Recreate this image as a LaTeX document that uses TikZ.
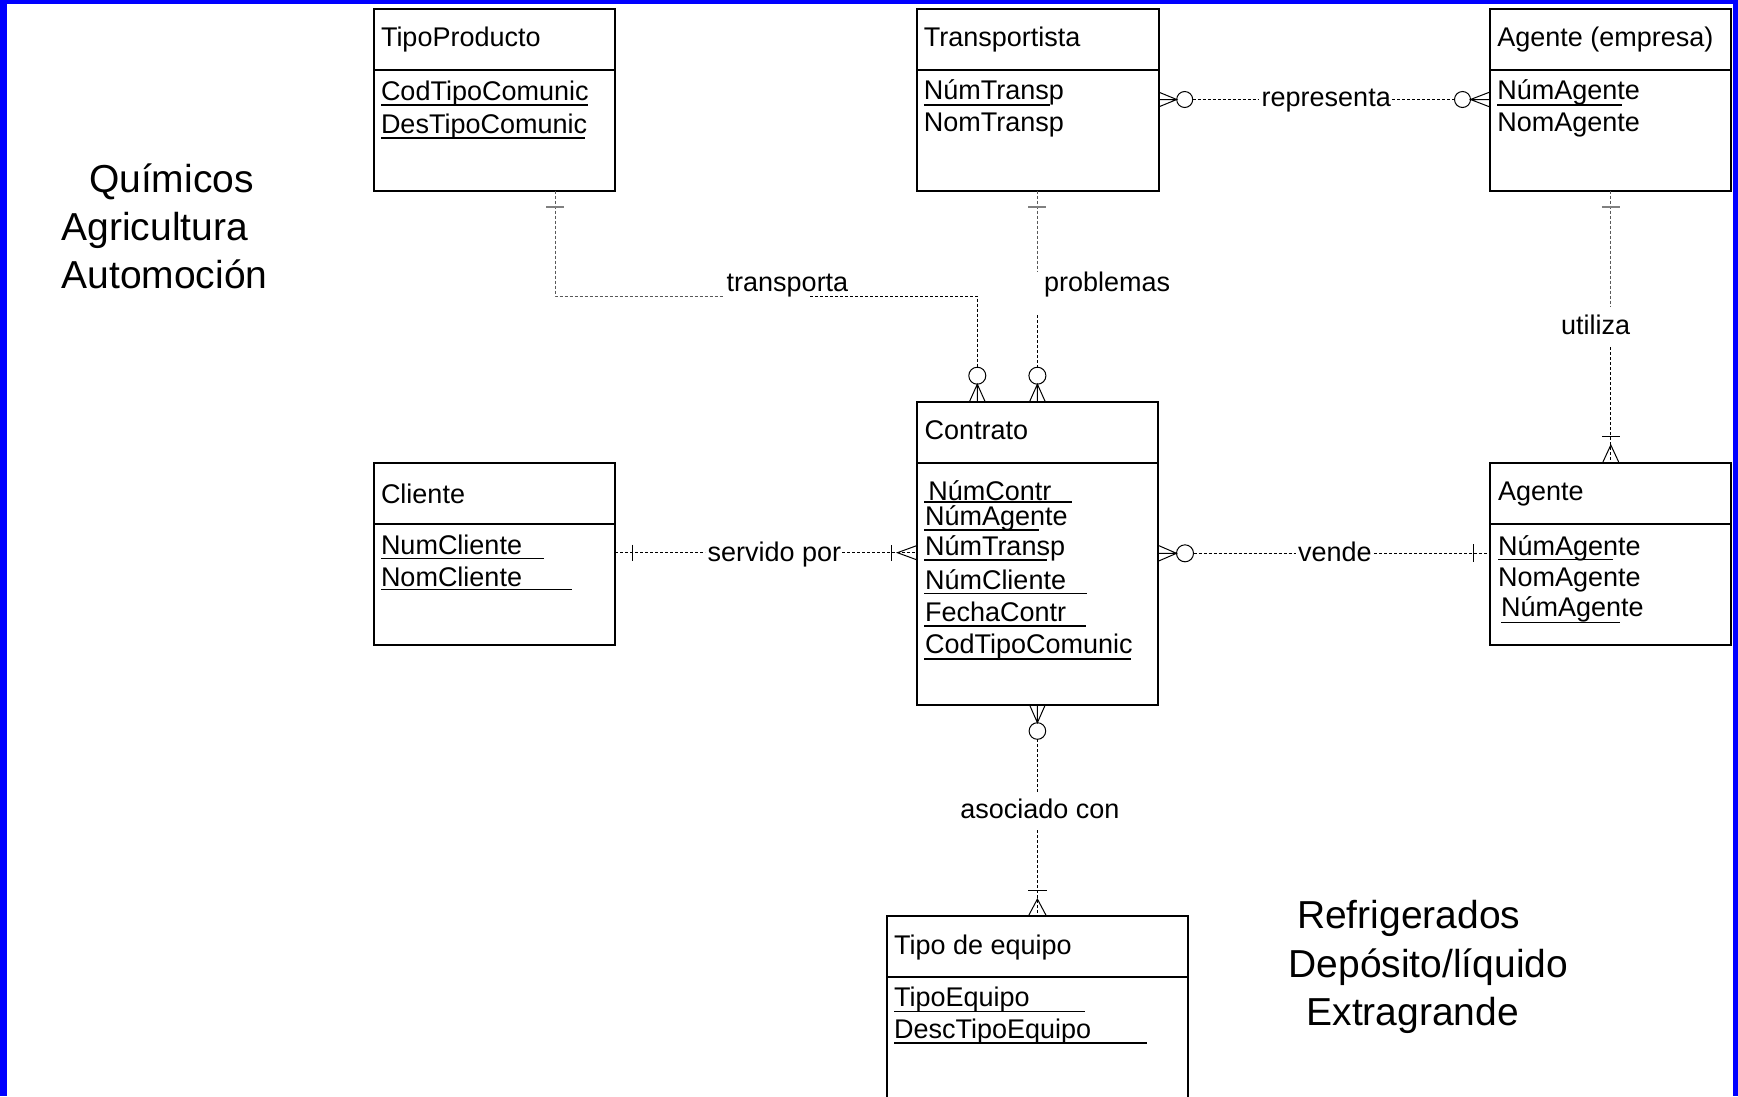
\documentclass[tikz,border=0pt]{standalone}
\usepackage{fontspec}
\setmainfont{Liberation Sans}
\usetikzlibrary{calc}
\newcommand\bxf{\fontsize{27}{31}\selectfont}
\newcommand\bigf{\fontsize{39}{47}\selectfont}
\begin{document}
\begin{tikzpicture}[x=1pt,y=-1pt,
 entity/.style={draw, line width=2pt, inner sep=0pt, outer sep=0pt, anchor=north west},
 txt/.style={inner sep=0pt, outer sep=0pt, anchor=base west, font=\bxf},
 bigtxt/.style={inner sep=0pt, outer sep=0pt, anchor=base west, font=\bigf},
 conn/.style={line width=1pt, dash pattern=on 3pt off 2pt},
 uconn/.style={conn, draw=black!65},
 foot/.style={line width=1pt},
 ul/.style={line width=1.8pt},
 tickmk/.style={line width=1pt},
 utick/.style={line width=1.2pt, draw=black!50},
 divl/.style={line width=2pt}]
\useasboundingbox (0,0) rectangle (1738,1096);
% background and blue frame
\fill[blue] (0,0) rectangle (1738,1096);
\fill[white] (7,4) rectangle (1733,1100);

% ---------- entities ----------
\node[entity, minimum width=241.5pt, minimum height=181.5pt] (tipo) at (373.5,9) {};
\node[entity, minimum width=242pt, minimum height=181.5pt] (transp) at (916.5,9) {};
\node[entity, minimum width=241pt, minimum height=181.5pt] (agemp) at (1490,9) {};
\node[entity, minimum width=241.5pt, minimum height=302.5pt] (contrato) at (916.5,402) {};
\node[entity, minimum width=241.5pt, minimum height=181.5pt] (cliente) at (373.5,463) {};
\node[entity, minimum width=241pt, minimum height=181.5pt] (agente) at (1490,463) {};
\node[entity, minimum width=301.5pt, minimum height=230pt] (equipo) at (886.5,916) {};

\draw[divl] ($(tipo.north west)+(0,61)$) -- ($(tipo.north east)+(0,61)$);
\draw[divl] ($(transp.north west)+(0,61)$) -- ($(transp.north east)+(0,61)$);
\draw[divl] ($(agemp.north west)+(0,61)$) -- ($(agemp.north east)+(0,61)$);
\draw[divl] ($(contrato.north west)+(0,60.5)$) -- ($(contrato.north east)+(0,60.5)$);
\draw[divl] ($(cliente.north west)+(0,60.5)$) -- ($(cliente.north east)+(0,60.5)$);
\draw[divl] ($(agente.north west)+(0,61)$) -- ($(agente.north east)+(0,61)$);
\draw[divl] ($(equipo.north west)+(0,60.5)$) -- ($(equipo.north east)+(0,60.5)$);

% ---------- entity texts ----------
\node[txt] (tipoT) at (381,46.7) {TipoProducto};
\node[txt] (tipoA1) at (381,100) {CodTipoComunic};
\node[txt] (tipoA2) at (381,133) {DesTipoComunic};
\draw[ul] (381,105) -- (587.5,105);
\draw[ul] (381,137.7) -- (584.8,137.7);

\node[txt] (transpT) at (923.8,46.7) {Transportista};
\node[txt] (transpA1) at (923.8,99) {NúmTransp};
\node[txt] (transpA2) at (923.8,131.7) {NomTransp};
\draw[ul] (923.8,105) -- (1049.7,105);

\node[txt] (agempT) at (1497.4,46.7) {Agente (empresa)};
\node[txt] (agempA1) at (1497.4,99) {NúmAgente};
\node[txt] (agempA2) at (1497.4,131.7) {NomAgente};
\draw[ul] (1497.4,105) -- (1621.6,105);

\node[txt] (contratoT) at (924.5,439.3) {Contrato};
\node[txt] (contratoA1) at (928.3,500) {NúmContr};
\node[txt] (contratoA2) at (925,525.5) {NúmAgente};
\node[txt] (contratoA3) at (925,555.5) {NúmTransp};
\node[txt] (contratoA4) at (925,589.5) {NúmCliente};
\node[txt] (contratoA5) at (925,621.5) {FechaContr};
\node[txt] (contratoA6) at (925,653.5) {CodTipoComunic};
\draw[ul] (924,502) -- (1071.7,502);
\draw[ul] (924,530) -- (1039.3,530);
\draw[ul] (924,560) -- (1046.7,560);
\draw[ul] (924,593.5) -- (1086.7,593.5);
\draw[ul] (924,626) -- (1085.7,626);
\draw[ul] (924,659) -- (1131,659);

\node[txt] (clienteT) at (381,503) {Cliente};
\node[txt] (clienteA1) at (381,554) {NumCliente};
\node[txt] (clienteA2) at (381,586.5) {NomCliente};
\draw[ul] (381,558.5) -- (543.5,558.5);
\draw[ul] (381,589.5) -- (572.2,589.5);

\node[txt] (agenteT) at (1498,500) {Agente};
\node[txt] (agenteA1) at (1498,555) {NúmAgente};
\node[txt] (agenteA2) at (1498,586) {NomAgente};
\node[txt] (agenteA3) at (1501,616.7) {NúmAgente};
\draw[ul] (1498,559.5) -- (1612.8,559.5);
\draw[ul] (1501,622.5) -- (1620,622.5);

\node[txt] (equipoT) at (894,954) {Tipo de equipo};
\node[txt] (equipoA1) at (894,1006) {TipoEquipo};
\node[txt] (equipoA2) at (894,1038.3) {DescTipoEquipo};
\draw[ul] (894,1011.5) -- (1085,1011.5);
\draw[ul] (894,1043.3) -- (1147.3,1043.3);

% ---------- free labels ----------
\node[bigtxt] (l1) at (89,192.7) {Químicos};
\node[bigtxt] (l2) at (61.5,240) {Agricultura};
\node[bigtxt] (l3) at (61.5,288) {Automoción};
\node[bigtxt] (r1) at (1297,928.3) {Refrigerados};
\node[bigtxt] (r2) at (1288.5,977) {Depósito/líquido};
\node[bigtxt] (r3) at (1306.5,1025) {Extragrande};

% ---------- relationship labels ----------
\node[txt] (lblTransporta) at (726.7,291.7) {transporta};
\node[txt] (lblProblemas) at (1044,291.7) {problemas};
\node[txt] (lblRepresenta) at (1261.7,106.7) {representa};
\node[txt] (lblUtiliza) at (1561,334) {utiliza};
\node[txt] (lblServido) at (707.7,561.5) {servido por};
\node[txt] (lblVende) at (1298,561.5) {vende};
\node[txt] (lblAsociado) at (960.4,818.3) {asociado con};

% ---------- connector points ----------
\coordinate (tpBend) at (555,296);
\coordinate (tpCorner) at (977.3,296);
\coordinate (tpCirc) at (977.3,375.7);
\coordinate (prCirc) at (1037.4,375.7);
\coordinate (reLeft) at (1184.7,99.5);
\coordinate (reRight) at (1462.5,99.5);
\coordinate (utX) at (1610.8,300);
\coordinate (spY) at (600,552.7);
\coordinate (veCirc) at (1185,553.3);
\coordinate (asCirc) at (1037.4,731);

% transporta: TipoProducto -> Contrato
\draw[uconn] (tipo.south -| tpBend) -- (tpBend) -- (724,296);
\draw[conn] (810,296) -- (tpCorner) -- ($(tpCirc)+(0,-8.5)$);
\draw[utick] (546,207) -- (564,207);
\draw[foot] (tpCirc) circle[radius=8.5];
\draw[foot] (969.3,402) -- (977.3,384.2) -- (985.3,402) (977.3,384.2) -- (contrato.north -| tpCirc);

% problemas: Transportista -> Contrato
\draw[uconn] (transp.south -| prCirc) -- (1037.4,272);
\draw[conn] (1037.4,315) -- ($(prCirc)+(0,-8.5)$);
\draw[utick] (1028.4,207) -- (1046.4,207);
\draw[foot] (prCirc) circle[radius=8.5];
\draw[foot] (1029.4,402) -- (1037.4,384.2) -- (1045.4,402) (1037.4,384.2) -- (contrato.north -| prCirc);

% representa: Transportista -> Agente (empresa)
\draw[foot] (reLeft) circle[radius=8];
\draw[foot] (reRight) circle[radius=8];
\draw[conn] ($(reLeft)+(8,0)$) -- (1258,99.5);
\draw[conn] (1392,99.5) -- ($(reRight)+(-8,0)$);
\draw[foot] (1158.5,92) -- (1176.7,99.5) -- (1158.5,107) (1176.7,99.5) -- (transp.east |- reLeft);
\draw[foot] (1490,92) -- (1470.5,99.5) -- (1490,107) (1470.5,99.5) -- (agemp.west |- reRight);

% utiliza: Agente (empresa) -> Agente
\draw[uconn] (agemp.south -| utX) -- (1610.8,307);
\draw[conn] (1610.8,347) -- (agente.north -| utX);
\draw[utick] (1601.8,207) -- (1619.8,207);
\draw[tickmk] (1602.1,436.7) -- (1619.5,436.7);
\draw[foot] (1602.8,462.3) -- (1610.8,445) -- (1618.8,462.3);

% servido por: Cliente -> Contrato
\draw[conn] (cliente.east |- spY) -- (705,552.7);
\draw[conn] (842,552.7) -- (contrato.west |- spY);
\draw[tickmk] (632,544.7) -- (632,560.7);
\draw[tickmk] (891.5,545) -- (891.5,561);
\draw[foot] (916.5,545.7) -- (897.4,552.7) -- (916.5,559.7);

% vende: Contrato -> Agente
\draw[foot] (veCirc) circle[radius=8.5];
\draw[conn] ($(veCirc)+(8.5,0)$) -- (1296,553.3);
\draw[conn] (1374,553.3) -- (agente.west |- veCirc);
\draw[foot] (1158,545.3) -- (1176.5,553.3) -- (1158,561.3) (1176.5,553.3) -- (contrato.east |- veCirc);
\draw[tickmk] (1473,544.3) -- (1473,562.3);

% asociado con: Contrato -> Tipo de equipo
\draw[foot] (asCirc) circle[radius=8.3];
\draw[foot] (1029.4,704.5) -- (1037.4,722.7) -- (1045.4,704.5) (contrato.south -| asCirc) -- (1037.4,722.7);
\draw[conn] ($(asCirc)+(0,8.3)$) -- (1037.4,791.7);
\draw[conn] (1037.4,830) -- (equipo.north -| asCirc);
\draw[tickmk] (1028,890) -- (1046.8,890);
\draw[foot] (1028.4,916) -- (1037.4,899) -- (1046.4,916);
\end{tikzpicture}
\end{document}
